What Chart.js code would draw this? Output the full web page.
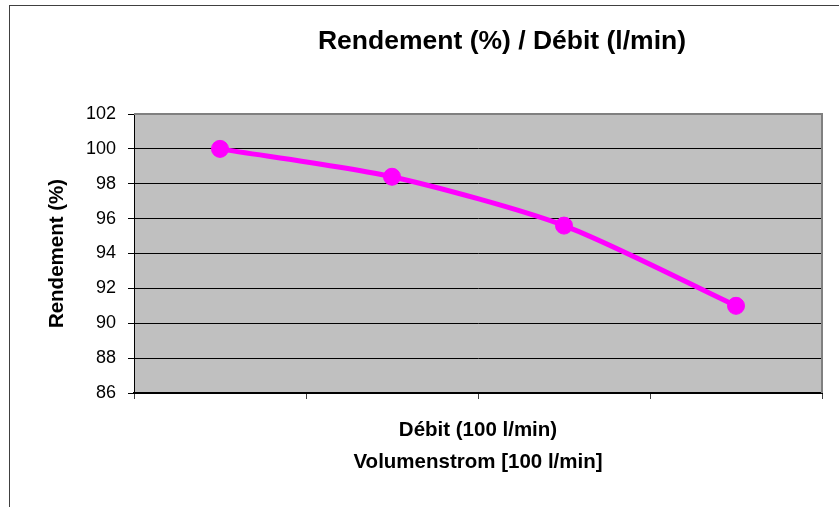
<!DOCTYPE html>
<html>
<head>
<meta charset="utf-8">
<script src="https://cdn.jsdelivr.net/npm/chart.js@4/dist/chart.umd.min.js"></script>
<style>
  html, body { margin: 0; padding: 0; background: #fff; }
  #wrap { width: 839px; height: 507px; }
</style>
</head>
<body>
<div id="wrap"><canvas id="rendementChart"></canvas></div>
<script>
// data
const categories = ["1", "2", "3", "4"];
const rendement = [100, 98.4, 95.6, 91.0];
const yMin = 86;
const yMax = 102;
const yStep = 2;

const chartTitle = "Rendement (%) / Débit (l/min)";
const yTitle = "Rendement (%)";
const xTitle = ["Débit (100 l/min)", "Volumenstrom [100 l/min]"];

const FONT = "'Liberation Sans', Arial, sans-serif";

// outer frame + grey plot area, Excel style
const excelLook = {
  id: "excelLook",
  beforeDraw(chart) {
    const { ctx, chartArea: a } = chart;
    ctx.save();
    ctx.fillStyle = "#fff";
    ctx.fillRect(0, 0, chart.width, chart.height);
    ctx.strokeStyle = "#404040";
    ctx.lineWidth = 1;
    ctx.strokeRect(9.5, 5.5, 1000, 1000);
    ctx.fillStyle = "#C0C0C0";
    ctx.fillRect(a.left, a.top, a.right - a.left, a.bottom - a.top);
    ctx.restore();
  },
  beforeDatasetsDraw(chart) {
    const { ctx, chartArea: a } = chart;
    ctx.save();
    ctx.strokeStyle = "#808080";
    ctx.lineWidth = 2;
    ctx.beginPath();
    ctx.moveTo(a.left, a.top);
    ctx.lineTo(a.right, a.top);
    ctx.lineTo(a.right, a.bottom);
    ctx.stroke();
    ctx.restore();
  },
  afterDraw(chart) {
    const { ctx } = chart;
    ctx.save();
    ctx.font = "bold 26.5px " + FONT;
    ctx.fillStyle = "#000";
    ctx.textAlign = "center";
    ctx.textBaseline = "middle";
    ctx.fillText(chartTitle, 502, 42);
    ctx.restore();
  }
};

const ctx = document.getElementById("rendementChart").getContext("2d");
new Chart(ctx, {
  type: "line",
  data: {
    labels: categories,
    datasets: [{
      label: yTitle,
      data: rendement,
      borderColor: "#FF00FF",
      backgroundColor: "#FF00FF",
      borderWidth: 5,
      pointRadius: 8.5,
      pointHoverRadius: 8.5,
      pointBorderWidth: 1,
      tension: 0.25,
      fill: false
    }]
  },
  options: {
    responsive: true,
    maintainAspectRatio: false,
    animation: false,
    layout: { padding: { left: 45, right: 17, top: 114, bottom: 29 } },
    plugins: {
      legend: { display: false },
      title: { display: false },
      tooltip: { enabled: false }
    },
    scales: {
      x: {
        offset: true,
        grid: { offset: true, drawOnChartArea: false, drawTicks: true, tickLength: 6, color: "#404040" },
        border: { color: "#000", width: 2 },
        ticks: { display: false },
        title: {
          display: true,
          text: xTitle,
          color: "#000",
          font: { family: FONT, size: 20.5, weight: "bold", lineHeight: 32 / 20.5 },
          padding: { top: 15, bottom: 0 }
        }
      },
      y: {
        min: yMin,
        max: yMax,
        afterFit(scale) { scale.width = 89; },
        grid: { color: "#000", tickLength: 6 },
        border: { color: "#000", width: 1 },
        ticks: {
          stepSize: yStep,
          padding: 12,
          color: "#000",
          font: { family: FONT, size: 18 }
        },
        title: {
          display: true,
          text: yTitle,
          color: "#000",
          font: { family: FONT, size: 20.5, weight: "bold" },
          padding: { top: 0, bottom: 0 }
        }
      }
    }
  },
  plugins: [excelLook]
});
</script>
</body>
</html>
